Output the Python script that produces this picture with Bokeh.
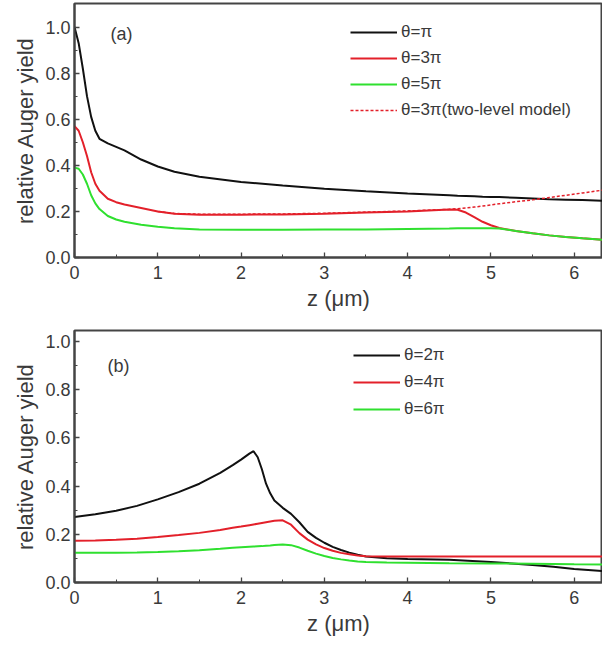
from bokeh.plotting import figure
from bokeh.models import (Legend, LegendItem, Label, FixedTicker, Range1d,
                          NumeralTickFormatter)
from bokeh.layouts import column
from bokeh.embed import file_html
from bokeh.resources import INLINE

# ---------------- data: panel (a) ----------------
z_a = [0, 0.05, 0.1, 0.15, 0.2, 0.25, 0.3, 0.4, 0.5, 0.6, 0.8, 1.0, 1.2, 1.5, 2.0,
       2.5, 3.0, 3.5, 4.0, 4.5, 4.6, 4.7, 4.8, 4.9, 5.0, 5.1, 5.3, 5.5, 5.7, 5.9, 6.1, 6.4]
theta_pi = [1.0, 0.93, 0.82, 0.70, 0.61, 0.55, 0.515, 0.495, 0.48, 0.465, 0.425, 0.395,
            0.372, 0.35, 0.328, 0.312, 0.298, 0.287, 0.278, 0.27, 0.268, 0.267, 0.266,
            0.264, 0.263, 0.262, 0.259, 0.256, 0.253, 0.251, 0.249, 0.246]
theta_3pi = [0.57, 0.55, 0.50, 0.44, 0.37, 0.32, 0.29, 0.255, 0.24, 0.23, 0.215, 0.2,
             0.19, 0.186, 0.186, 0.187, 0.19, 0.195, 0.2, 0.208, 0.207, 0.195, 0.175,
             0.155, 0.14, 0.128, 0.115, 0.105, 0.096, 0.089, 0.083, 0.076]
theta_5pi = [0.39, 0.385, 0.36, 0.32, 0.27, 0.235, 0.21, 0.18, 0.165, 0.155, 0.142, 0.133,
             0.127, 0.122, 0.12, 0.12, 0.121, 0.122, 0.124, 0.126, 0.127, 0.127, 0.127,
             0.127, 0.127, 0.126, 0.115, 0.105, 0.096, 0.089, 0.083, 0.076]
z_two = [1.0, 1.2, 1.5, 2.0, 2.5, 3.0, 3.5, 4.0, 4.5, 4.6, 4.7, 4.8, 4.9, 5.0, 5.1,
         5.3, 5.5, 5.7, 5.9, 6.1, 6.4]
theta_3pi_two = [0.2, 0.191, 0.188, 0.188, 0.189, 0.192, 0.197, 0.202, 0.209, 0.212,
                 0.215, 0.219, 0.223, 0.228, 0.233, 0.242, 0.25, 0.26, 0.27, 0.28, 0.295]

# ---------------- data: panel (b) ----------------
z_b = [0, 0.25, 0.5, 0.75, 1.0, 1.25, 1.5, 1.75, 1.9, 2.0, 2.1, 2.15, 2.2, 2.25, 2.3,
       2.35, 2.4, 2.5, 2.6, 2.7, 2.8, 2.9, 3.0, 3.1, 3.2, 3.3, 3.4, 3.5, 3.75, 4.0,
       4.5, 5.0, 5.5, 5.75, 6.0, 6.4]
theta_2pi = [0.272, 0.283, 0.298, 0.318, 0.345, 0.375, 0.41, 0.455, 0.487, 0.51, 0.535,
             0.545, 0.52, 0.47, 0.41, 0.37, 0.34, 0.31, 0.285, 0.25, 0.21, 0.185, 0.165,
             0.148, 0.135, 0.124, 0.115, 0.108, 0.101, 0.098, 0.094, 0.085, 0.073,
             0.065, 0.056, 0.046]
theta_4pi = [0.173, 0.174, 0.177, 0.182, 0.189, 0.197, 0.206, 0.218, 0.227, 0.232, 0.238,
             0.241, 0.244, 0.247, 0.25, 0.253, 0.256, 0.258, 0.24, 0.205, 0.178, 0.158,
             0.143, 0.132, 0.123, 0.117, 0.112, 0.109, 0.108, 0.108, 0.108, 0.108,
             0.108, 0.108, 0.108, 0.108]
theta_6pi = [0.123, 0.123, 0.124, 0.125, 0.127, 0.13, 0.134, 0.14, 0.144, 0.146, 0.148,
             0.149, 0.15, 0.151, 0.153, 0.154, 0.156, 0.158, 0.155, 0.145, 0.132, 0.12,
             0.11, 0.102, 0.096, 0.091, 0.087, 0.085, 0.083, 0.082, 0.08, 0.079, 0.078,
             0.077, 0.076, 0.075]

x_ticks = [0, 1, 2, 3, 4, 5, 6]
x_minor = [0.5, 1.5, 2.5, 3.5, 4.5, 5.5]
y_ticks = [0.0, 0.2, 0.4, 0.6, 0.8, 1.0]
y_minor = [0.1, 0.3, 0.5, 0.7, 0.9]

BLACK = "#111111"
RED = "#e3202a"
GREEN = "#2fe02f"
AXIS = "#444444"
TEXT = "#3a3a3a"
FONT = "Liberation Sans"


def make_panel(height, y_end, top_border, bottom_border):
    p = figure(width=602, height=height, output_backend="svg", toolbar_location=None,
               x_range=Range1d(0, 6.34), y_range=Range1d(0, y_end),
               min_border_left=74, min_border_right=0,
               min_border_top=top_border, min_border_bottom=bottom_border)
    p.grid.visible = False
    p.outline_line_color = AXIS
    p.outline_line_width = 2
    p.background_fill_color = "white"
    p.border_fill_color = "white"
    for ax in (p.xaxis[0], p.yaxis[0]):
        ax.axis_line_color = AXIS
        ax.axis_line_width = 2
        ax.major_tick_line_color = AXIS
        ax.minor_tick_line_color = AXIS
        ax.major_tick_line_width = 1.3
        ax.major_tick_in = 5
        ax.major_tick_out = 0
        ax.minor_tick_in = 3
        ax.minor_tick_out = 0
        ax.major_label_text_font = FONT
        ax.major_label_text_font_size = "18px"
        ax.major_label_text_color = TEXT
        ax.axis_label_text_font = FONT
        ax.axis_label_text_font_style = "normal"
        ax.axis_label_text_color = TEXT
    p.xaxis.ticker = FixedTicker(ticks=x_ticks, minor_ticks=x_minor)
    p.yaxis.ticker = FixedTicker(ticks=y_ticks, minor_ticks=y_minor)
    p.yaxis.formatter = NumeralTickFormatter(format="0.0")
    p.xaxis.major_label_standoff = 8
    p.yaxis.major_label_standoff = 4
    p.xaxis.axis_label = "z (μm)"
    p.xaxis.axis_label_text_font_size = "22px"
    p.xaxis.axis_label_standoff = 4
    p.yaxis.axis_label = "relative Auger yield"
    p.yaxis.axis_label_text_font_size = "22px"
    p.yaxis.axis_label_standoff = 4
    return p


def style_legend(leg, spacing):
    leg.label_text_font = FONT
    leg.label_text_font_size = "17px"
    leg.label_text_color = TEXT
    leg.glyph_width = 47
    leg.glyph_height = 20
    leg.label_height = 20
    leg.label_standoff = 4
    leg.spacing = spacing
    leg.padding = 0
    leg.margin = 0
    leg.border_line_color = None
    leg.background_fill_alpha = 0


# ---------------- panel (a) ----------------
pa = make_panel(325, 1.102, 3, 68)
ra1 = pa.line(z_a, theta_pi, line_color=BLACK, line_width=2)
ra2 = pa.line(z_a, theta_3pi, line_color=RED, line_width=2)
ra3 = pa.line(z_a, theta_5pi, line_color=GREEN, line_width=2)
ra4 = pa.line(z_two, theta_3pi_two, line_color=RED, line_width=1.5, line_dash="3 2")
leg_a = Legend(items=[LegendItem(label="θ=π", renderers=[ra1]),
                      LegendItem(label="θ=3π", renderers=[ra2]),
                      LegendItem(label="θ=5π", renderers=[ra3]),
                      LegendItem(label="θ=3π(two-level model)", renderers=[ra4])],
               location=(276, 137))
style_legend(leg_a, 6)
pa.add_layout(leg_a)
pa.add_layout(Label(x=36, y=224, x_units="screen", y_units="screen", text="(a)",
                    text_font=FONT, text_font_size="18px", text_color=TEXT,
                    text_baseline="middle"))

# ---------------- panel (b) ----------------
pb = make_panel(329, 1.046, 5, 72)
rb1 = pb.line(z_b, theta_2pi, line_color=BLACK, line_width=2)
rb2 = pb.line(z_b, theta_4pi, line_color=RED, line_width=2)
rb3 = pb.line(z_b, theta_6pi, line_color=GREEN, line_width=2)
leg_b = Legend(items=[LegendItem(label="θ=2π", renderers=[rb1]),
                      LegendItem(label="θ=4π", renderers=[rb2]),
                      LegendItem(label="θ=6π", renderers=[rb3])],
               location=(279, 163))
style_legend(leg_b, 7)
pb.add_layout(leg_b)
pb.add_layout(Label(x=33, y=217, x_units="screen", y_units="screen", text="(b)",
                    text_font=FONT, text_font_size="18px", text_color=TEXT,
                    text_baseline="middle"))

layout = column(pa, pb)
open("out.html", "w").write(file_html(layout, INLINE))
